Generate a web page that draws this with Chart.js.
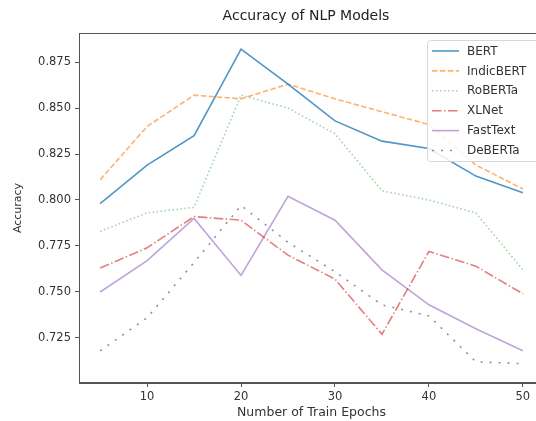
<!DOCTYPE html>
<html>
<head>
<meta charset="utf-8">
<script src="https://cdn.jsdelivr.net/npm/chart.js@4.4.0/dist/chart.umd.min.js"></script>
<style>
  html, body { margin: 0; padding: 0; background: #fff; overflow: hidden; }
  #wrap { width: 536px; height: 421px; overflow: hidden; position: relative; }
  canvas { display: block; }
</style>
</head>
<body>
<div id="wrap"><canvas id="c" width="560" height="421"></canvas></div>
<script>
const epochs = [5, 10, 15, 20, 25, 30, 35, 40, 45, 50];
const bert      = [0.798, 0.819, 0.835, 0.882, 0.863, 0.843, 0.832, 0.828, 0.813, 0.804];
const indicbert = [0.811, 0.840, 0.857, 0.855, 0.863, 0.855, 0.848, 0.841, 0.819, 0.806];
const roberta   = [0.783, 0.793, 0.796, 0.857, 0.850, 0.836, 0.805, 0.800, 0.793, 0.762];
const xlnet     = [0.763, 0.774, 0.791, 0.789, 0.770, 0.757, 0.727, 0.772, 0.764, 0.749];
const fasttext  = [0.750, 0.767, 0.790, 0.759, 0.802, 0.789, 0.762, 0.743, 0.730, 0.718];
const deberta   = [0.718, 0.736, 0.766, 0.797, 0.777, 0.761, 0.743, 0.737, 0.712, 0.711];
const seriesNames = ['BERT', 'IndicBERT', 'RoBERTa', 'XLNet', 'FastText', 'DeBERTa'];
const xTicks = [10, 20, 30, 40, 50];
const yTicks = [0.725, 0.750, 0.775, 0.800, 0.825, 0.850, 0.875];

const FONT = "'DejaVu Sans', sans-serif";
const seriesValues = [bert, indicbert, roberta, xlnet, fasttext, deberta];
const styles = [
  { color: 'rgba(31,119,180,0.78)', dash: [] },
  { color: 'rgba(255,127,14,0.6)', dash: [5.5, 2.4] },
  { color: 'rgba(44,160,44,0.45)', dash: [1.5, 2.5] },
  { color: 'rgba(214,39,40,0.6)', dash: [9.6, 2.4, 1.5, 2.4] },
  { color: 'rgba(148,103,189,0.6)', dash: [] },
  { color: 'rgba(100,95,110,0.7)', dash: [2, 7] }
];

const datasets = seriesNames.map((name, i) => ({
  label: name,
  data: epochs.map((e, j) => ({ x: e, y: seriesValues[i][j] })),
  borderColor: styles[i].color,
  backgroundColor: styles[i].color,
  borderDash: styles[i].dash,
  borderWidth: 1.6,
  pointRadius: 0,
  tension: 0,
  fill: false
}));

const framePlugin = {
  id: 'frame',
  afterDraw(chart) {
    const { ctx, chartArea: a } = chart;
    ctx.save();
    ctx.strokeStyle = '#555';
    ctx.lineWidth = 1;
    ctx.strokeRect(a.left + 0.5, a.top + 0.5, a.right - a.left - 1, a.bottom - a.top - 1);
    // title
    ctx.fillStyle = '#222';
    ctx.font = '14px ' + FONT;
    ctx.textAlign = 'center';
    ctx.textBaseline = 'middle';
    ctx.fillText('Accuracy of NLP Models', 306, 16);
    // legend
    const lx = 427, ly = 40, lw = 140, lh = 121;
    ctx.fillStyle = 'rgba(255,255,255,0.85)';
    ctx.strokeStyle = '#d8d8d8';
    ctx.beginPath();
    ctx.roundRect(lx + 0.5, ly + 0.5, lw, lh, 3);
    ctx.fill();
    ctx.stroke();
    ctx.font = '12px ' + FONT;
    ctx.textAlign = 'left';
    chart.data.datasets.forEach((ds, i) => {
      const y = 51 + i * 19.9;
      ctx.strokeStyle = ds.borderColor;
      ctx.lineWidth = 1.6;
      ctx.setLineDash(ds.borderDash);
      ctx.beginPath();
      ctx.moveTo(432, y);
      ctx.lineTo(459, y);
      ctx.stroke();
      ctx.setLineDash([]);
      ctx.fillStyle = '#333';
      ctx.fillText(ds.label, 467, y + 0.5);
    });
    ctx.restore();
  }
};

new Chart(document.getElementById('c'), {
  type: 'line',
  data: { datasets },
  plugins: [framePlugin],
  options: {
    responsive: false,
    animation: false,
    devicePixelRatio: 1,
    layout: { padding: { top: 33, right: 16, left: 0, bottom: 0 } },
    plugins: { legend: { display: false }, title: { display: false }, tooltip: { enabled: false } },
    scales: {
      x: {
        type: 'linear',
        min: 2.75, max: 52.25,
        afterBuildTicks: s => { s.ticks = xTicks.map(v => ({ value: v })); },
        afterFit: s => { s.height = 38; },
        grid: { drawOnChartArea: false, drawTicks: true, tickLength: 4, color: '#555' },
        border: { display: true, color: '#555' },
        ticks: { color: '#333', font: { family: FONT, size: 11.5 }, padding: 3, maxRotation: 0 },
        title: { display: true, text: 'Number of Train Epochs', color: '#333', font: { family: FONT, size: 12.5 }, padding: { top: 1, bottom: 1 } }
      },
      y: {
        type: 'linear',
        min: 0.7005, max: 0.8908,
        afterBuildTicks: s => { s.ticks = yTicks.map(v => ({ value: v })); },
        afterFit: s => { s.width = 79; },
        grid: { drawOnChartArea: false, drawTicks: true, tickLength: 4, color: '#555' },
        border: { display: true, color: '#555' },
        ticks: { color: '#333', font: { family: FONT, size: 11.5 }, padding: 4, callback: v => v.toFixed(3) },
        title: { display: true, text: 'Accuracy', color: '#333', font: { family: FONT, size: 11 }, padding: { top: 12, bottom: 2 } }
      }
    }
  }
});
</script>
</body>
</html>
